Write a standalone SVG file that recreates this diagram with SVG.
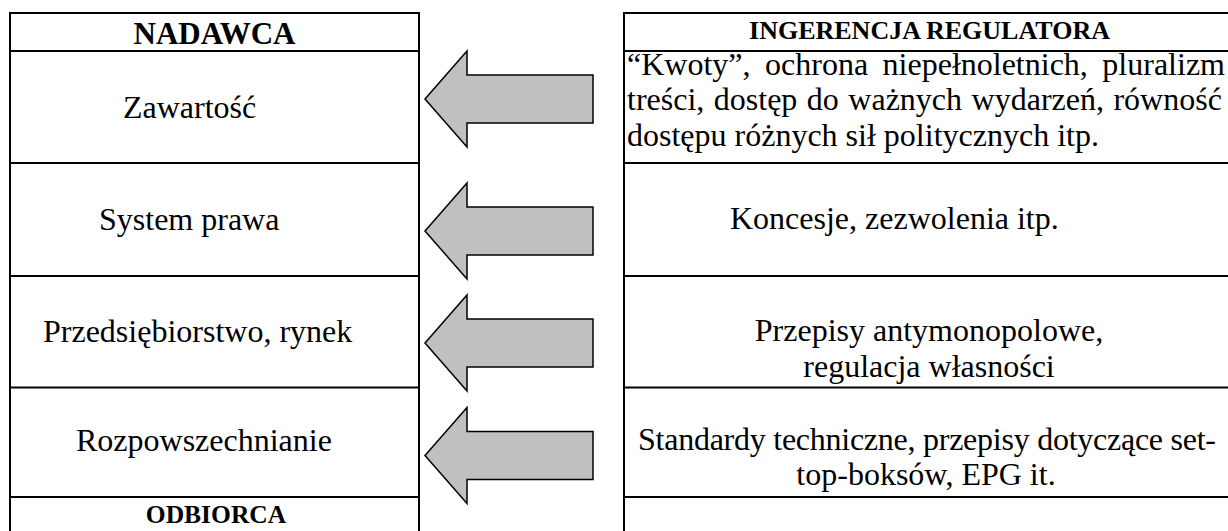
<svg xmlns="http://www.w3.org/2000/svg" width="1228" height="531" viewBox="0 0 1228 531">
<style>
.ln{stroke:#000;stroke-width:2;fill:none}
.arrow{fill:#C0C0C0;stroke:#000;stroke-width:1.5;stroke-linejoin:miter}
text{font-family:"Liberation Serif","Times New Roman",serif;fill:#000}
.t{font-size:32px}
.h{font-weight:bold}
</style>
<defs>
<polygon id="arr" points="425,0 467,-48 467,-24 593,-24 593,24 467,24 467,48" class="arrow"/>
</defs>
<rect width="1228" height="531" fill="#fff"/>
<g id="frame">
<path class="ln" d="M10,13V540M419,13V540M624,13V540M9,13H420M9,51H420M9,163H420M9,276H420M9,387.5H420M9,497H420M623,13H1240M623,51H1240M623,163H1240M623,276H1240M623,387.5H1240M623,497H1240"/>
</g>
<g id="nadawca"><text class="h" x="214.5" y="44" font-size="31" text-anchor="middle">NADAWCA</text></g>
<g id="zawartosc"><text class="t" x="123" y="118">Zawartość</text></g>
<g id="system-prawa"><text class="t" x="99" y="230">System prawa</text></g>
<g id="przedsiebiorstwo"><text class="t" x="43" y="342">Przedsiębiorstwo, rynek</text></g>
<g id="rozpowszechnianie"><text class="t" x="76" y="451">Rozpowszechnianie</text></g>
<g id="odbiorca"><text class="h" x="216" y="523" font-size="25.5" text-anchor="middle">ODBIORCA</text></g>
<g id="ingerencja"><text class="h" x="929.5" y="39" font-size="26" text-anchor="middle">INGERENCJA REGULATORA</text></g>
<g id="reg-zawartosc">
<text class="t" x="627" y="75" word-spacing="6.5">“Kwoty”, ochrona niepełnoletnich, pluralizm</text>
<text class="t" x="627" y="110" word-spacing="1.5">treści, dostęp do ważnych wydarzeń, równość</text>
<text class="t" x="627" y="146">dostępu różnych sił politycznych itp.</text>
</g>
<g id="reg-prawo"><text class="t" x="730" y="229">Koncesje, zezwolenia itp.</text></g>
<g id="reg-rynek">
<text class="t" x="929" y="341" text-anchor="middle">Przepisy antymonopolowe,</text>
<text class="t" x="929" y="377" text-anchor="middle">regulacja własności</text>
</g>
<g id="reg-rozpowszechnianie">
<text class="t" x="638" y="450" textLength="578" lengthAdjust="spacing">Standardy techniczne, przepisy dotyczące set-</text>
<text class="t" x="926" y="485" text-anchor="middle">top-boksów, EPG it.</text>
</g>
<g id="connectors">
<use href="#arr" y="99"/>
<use href="#arr" y="231"/>
<use href="#arr" y="343"/>
<use href="#arr" y="455.5"/>
</g>
</svg>
